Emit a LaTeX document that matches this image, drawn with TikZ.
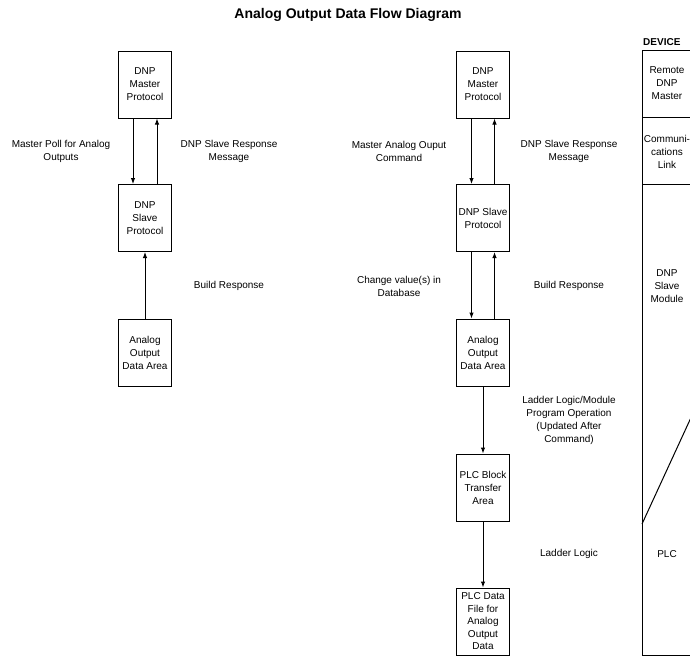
\documentclass[tikz,border=0pt]{standalone}
\usepackage{fontspec}
\setmainfont{Liberation Sans}
\usetikzlibrary{arrows.meta}
\begin{document}
\begin{tikzpicture}[x=1pt,y=-1pt,
  box/.style={draw, line width=1pt, minimum width=53pt, minimum height=67pt, inner sep=0pt, align=center, font=\fontsize{10}{13}\selectfont},
  lbl/.style={align=center, inner sep=0pt, font=\fontsize{10}{13}\selectfont},
  arr/.style={line width=1pt, -{Latex[length=6pt,width=4.5pt]}},
  tline/.style={line width=1pt}]
\useasboundingbox (0,0) rectangle (690,656);
\clip (0,0) rectangle (690,656);

\node[font=\fontsize{14}{16}\selectfont\bfseries] (title) at (348,15) {Analog Output Data Flow Diagram};

% left column
\node[box] (lm) at (145,84.5) {DNP\\Master\\Protocol};
\node[box] (ls) at (145,218) {DNP\\Slave\\Protocol};
\node[box] (la) at (145,352.5) {Analog\\Output\\Data Area};

\draw[arr] ([xshift=-12pt]lm.south) -- ([xshift=-12pt]ls.north);
\draw[arr] ([xshift=12pt]ls.north) -- ([xshift=12pt]lm.south);
\draw[arr] (la.north) -- (ls.south);

\node[lbl] (l1) at (61,151.5) {Master Poll for Analog\\Outputs};
\node[lbl] (l2) at (229,151.5) {DNP Slave Response\\Message};
\node[lbl] (l3) at (229,286) {Build Response};

% middle column
\node[box] (mm) at (483,84.5) {DNP\\Master\\Protocol};
\node[box] (ms) at (483,218) {DNP Slave\\Protocol};
\node[box] (ma) at (483,352.5) {Analog\\Output\\Data Area};
\node[box] (mp) at (483,487.5) {PLC Block\\Transfer\\Area};
\node[box, font=\fontsize{10}{12.5}\selectfont] (md) at (483,621.5) {PLC Data\\File for\\Analog\\Output\\Data};

\draw[arr] ([xshift=-11.5pt]mm.south) -- ([xshift=-11.5pt]ms.north);
\draw[arr] ([xshift=11.5pt]ms.north) -- ([xshift=11.5pt]mm.south);
\draw[arr] ([xshift=-11.5pt]ms.south) -- ([xshift=-11.5pt]ma.north);
\draw[arr] ([xshift=11.5pt]ma.north) -- ([xshift=11.5pt]ms.south);
\draw[arr] (ma.south) -- (mp.north);
\draw[arr] (mp.south) -- (md.north);

\node[lbl] (m1) at (399,151.5) {Master Analog Ouput\\Command};
\node[lbl] (m2) at (569,151.5) {DNP Slave Response\\Message};
\node[lbl] (m3) at (399,286.5) {Change value(s) in\\Database};
\node[lbl] (m4) at (569,286) {Build Response};
\node[lbl] (m5) at (569,420.5) {Ladder Logic/Module\\Program Operation\\(Updated After\\Command)};
\node[lbl] (m6) at (569,554) {Ladder Logic};

% device table
\node[anchor=west, inner sep=0pt, font=\fontsize{10}{12}\selectfont\bfseries] (dev) at (643,42) {DEVICE};
\draw[tline] (700,50) -- (642,50) -- (642,655) -- (700,655);
\draw[tline] (642,117) -- (700,117);
\draw[tline] (642,184) -- (700,184);
\draw[tline] (642,524) -- (700,398);
\node[lbl] (t1) at (667,83.5) {Remote\\DNP\\Master};
\node[lbl] (t2) at (667,151.5) {Communi-\\cations\\Link};
\node[lbl] (t3) at (667,286) {DNP\\Slave\\Module};
\node[lbl] (t4) at (667,554) {PLC};
\end{tikzpicture}
\end{document}
